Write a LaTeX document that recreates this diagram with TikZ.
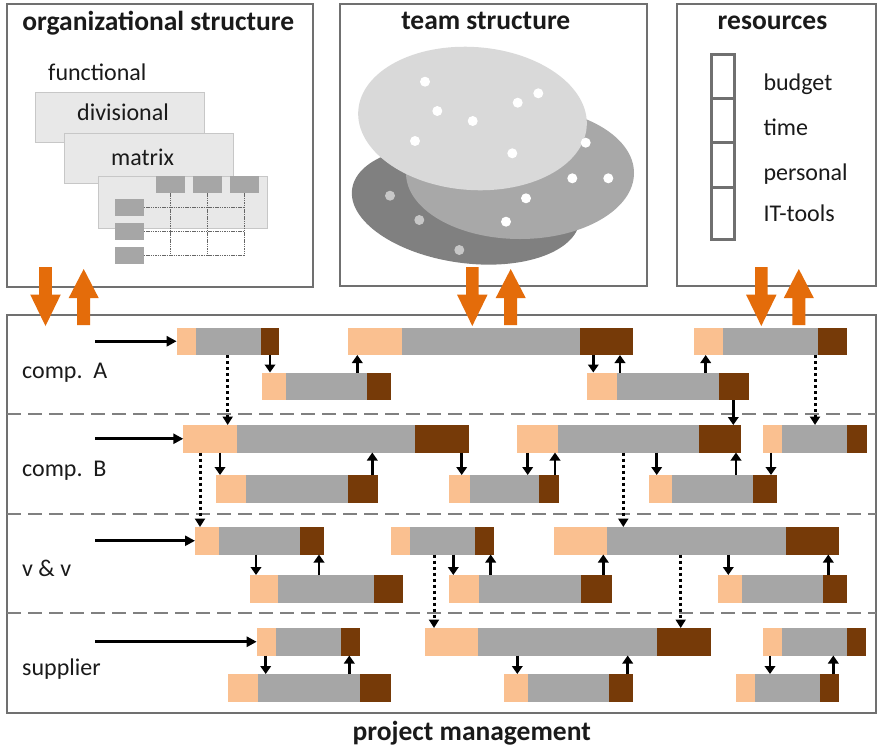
\documentclass[tikz,border=0pt]{standalone}
\usepackage{fontspec}
\setmainfont{Carlito}
\usetikzlibrary{arrows.meta,fit}
\definecolor{peach}{HTML}{FAC090}
\definecolor{bargray}{HTML}{A6A6A6}
\definecolor{barbrown}{HTML}{763A08}
\definecolor{orng}{HTML}{E46C0A}
\definecolor{frame}{HTML}{707070}
\definecolor{txt}{HTML}{1A1A1A}
\newcommand\pmbar[6]{%
  \fill[peach] (#2,#6) rectangle (#3,#6+27.5);
  \fill[bargray] (#3,#6) rectangle (#4,#6+27.5);
  \fill[barbrown] (#4,#6) rectangle (#5,#6+27.5);
  \node[fit={(#2,#6) (#5,#6+27.5)}, inner sep=0pt, outer sep=0pt] (#1) {};
}
\newcommand\pmdn[3]{\draw[sarrow] (#1,0 |- #2.south) -- (#1,0 |- #3.north);}
\newcommand\pmup[3]{\draw[sarrow] (#1,0 |- #2.north) -- (#1,0 |- #3.south);}
\newcommand\pmdot[3]{\draw[darrow] (#1,0 |- #2.south) -- (#1,0 |- #3.north);}
\newcommand\odown[1]{\fill[orng] (#1-6.3,267) -- (#1+6.3,267) -- (#1+6.3,294.5) -- (#1+15.3,294.5) -- (#1,326) -- (#1-15.3,294.5) -- (#1-6.3,294.5) -- cycle;}
\newcommand\oup[1]{\fill[orng] (#1-6.5,325) -- (#1+6.5,325) -- (#1+6.5,298) -- (#1+15,298) -- (#1,269) -- (#1-15,298) -- (#1-6.5,298) -- cycle;}
\begin{document}
\begin{tikzpicture}[x=1pt,y=-1pt,
  box/.style={draw=frame, line width=2.3pt, inner sep=0pt, outer sep=0pt, anchor=north west},
  title/.style={font=\fontsize{27.5}{33}\selectfont\bfseries, anchor=base, inner sep=0pt, text=txt},
  lbl/.style={font=\fontsize{24}{29}\selectfont, anchor=base west, inner sep=0pt, text=txt},
  orgr/.style={draw=black!22, fill=black!9, line width=0.8pt, anchor=north west, inner sep=0pt},
  mini/.style={fill=black!35, anchor=north west, inner sep=0pt, minimum width=29pt, minimum height=16.6pt},
  gridl/.style={draw=black!60, line width=0.9pt, dash pattern=on 1.5pt off 0.8pt},
  dashl/.style={draw=black!50, line width=2.2pt, dash pattern=on 14pt off 7pt},
  sarrow/.style={line width=2.6pt, -{Triangle[width=10.5pt,length=8pt]}},
  darrow/.style={line width=3pt, dash pattern=on 3pt off 3pt, -{Triangle[width=10pt,length=8.5pt]}},
  entry/.style={line width=2.6pt, -{Triangle[width=10pt,length=10pt]}}]
\useasboundingbox (0,0) rectangle (878,748);
\fill[white] (0,0) rectangle (878,748);
% frames
\node[box, minimum width=306pt, minimum height=283pt] (org) at (7,4) {};
\node[box, minimum width=307pt, minimum height=282pt] (team) at (340,4) {};
\node[box, minimum width=199pt, minimum height=282pt] (res) at (677,4) {};
\node[box, minimum width=869pt, minimum height=398pt] (pm) at (7,315) {};
% titles
\node[title] (torg) at (158.3,30) {organizational structure};
\node[title] (tteam) at (485.8,29.3) {team structure};
\node[title] (tres) at (772.5,29.3) {resources};
\node[title] (tpm) at (471.7,740) {project management};
% organizational structure
\node[lbl] (tfun) at (48,80) {functional};
\node[orgr, minimum width=169pt, minimum height=50pt] (r1) at (35,91.7) {};
\node[lbl] (tdiv) at (77,120) {divisional};
\node[orgr, minimum width=169.3pt, minimum height=50pt] (r2) at (64,132.7) {};
\node[lbl] (tmat) at (111,165.7) {matrix};
\node[orgr, minimum width=169pt, minimum height=52.3pt] (r3) at (97.7,176) {};
\node[mini] (c1) at (155.7,176) {};
\node[mini] (c2) at (192.7,176) {};
\node[mini] (c3) at (229.3,176) {};
\node[mini] (w1) at (114.3,199) {};
\node[mini] (w2) at (114.3,222.7) {};
\node[mini] (w3) at (114.3,246.7) {};
\foreach \c in {c1,c2,c3} \draw[gridl] (\c.south) -- (\c.south |- w3.east);
\foreach \w in {w1,w2,w3} \draw[gridl] (\w.east) -- (\w.east -| c3.south);
% team structure
\fill[black!50, rotate around={-8:(466,205)}] (466,205) ellipse [x radius=115, y radius=58];
\fill[black!34] (520,173) ellipse [x radius=114, y radius=66];
\fill[black!15, rotate around={-4:(472.5,118.5)}] (472.5,118.5) ellipse [x radius=114.5, y radius=71.5];
\foreach \p in {(425,81.7),(437.3,111),(472.7,121),(517.7,102.7),(538.3,93.3),(415,141),(512.3,153.3),(585.7,142.7),(572.3,178.3),(608.3,178.3),(526,198.3),(506,221.7)}
  \fill[white] \p circle [radius=5];
\foreach \p in {(390,195.7),(419.3,220),(459.3,250)}
  \fill[black!22] \p circle [radius=5];
% resources
\draw[frame, line width=3pt] (711.7,54) rectangle (734,239.3);
\foreach \yy in {98.3,142.7,187.7} \draw[frame, line width=3pt] (711.7,\yy) -- (734,\yy);
\node[lbl] (tbud) at (763.3,90.7) {budget};
\node[lbl] (ttim) at (763.3,135) {time};
\node[lbl] (tper) at (763.3,180) {personal};
\node[lbl] (tit) at (763.3,221.7) {IT-tools};
% row separators
\foreach \yy in {414,514,613} \draw[dashl] (pm.west |- 0,\yy) -- (pm.east |- 0,\yy);
% row labels
\node[lbl] (la) at (22,378.3) {comp.\ \ A};
\node[lbl] (lb) at (22,476.7) {comp.\ \ B};
\node[lbl] (lc) at (22,576) {v \& v};
\node[lbl] (ld) at (22,675) {supplier};
% bars
\pmbar{A1}{176.7}{196}{260.7}{279.3}{327.5}
\pmbar{A2}{261.7}{285.7}{366.7}{390.7}{372.5}
\pmbar{A3}{348.3}{401.7}{580}{633.3}{327.5}
\pmbar{A4}{587.3}{617.3}{719}{749}{372.5}
\pmbar{A5}{694.3}{722.7}{818.3}{847.3}{327.5}
\pmbar{B1}{183.3}{236.7}{415}{469}{425}
\pmbar{B2}{216}{246}{347.7}{378.3}{475}
\pmbar{B3}{517.3}{558.3}{699}{740.7}{425}
\pmbar{B4}{449.3}{470}{539}{559}{475}
\pmbar{B5}{649}{672.3}{753.3}{777.3}{475}
\pmbar{B6}{763.3}{782.3}{847.3}{866.7}{425}
\pmbar{C1}{195}{219.3}{300}{324}{527}
\pmbar{C2}{250}{278.3}{374}{402.7}{575}
\pmbar{C3}{390.7}{410}{475}{494}{527}
\pmbar{C4}{554}{606.7}{785.7}{839.3}{527}
\pmbar{C5}{449.3}{479.3}{581}{611.7}{575}
\pmbar{C6}{718.3}{742.3}{822.7}{847.3}{575}
\pmbar{D1}{256.7}{276}{340.7}{360}{628}
\pmbar{D2}{228.3}{258.3}{360}{390.7}{674}
\pmbar{D3}{425}{478.3}{657.3}{710.7}{628}
\pmbar{D4}{504.3}{528.3}{609.3}{633.3}{674}
\pmbar{D5}{763.3}{782.3}{846.7}{866}{628}
\pmbar{D6}{736}{755}{820}{839}{674}
% entry arrows
\coordinate (sA) at (95,341.25);
\coordinate (sB) at (95,438.75);
\coordinate (sC) at (95,540.75);
\coordinate (sD) at (95,641.75);
\draw[entry] (sA) -- (A1.west);
\draw[entry] (sB) -- (B1.west);
\draw[entry] (sC) -- (C1.west);
\draw[entry] (sD) -- (D1.west);
% solid links
\pmdn{270}{A1}{A2}
\pmup{357.3}{A2}{A3}
\pmdn{593.3}{A3}{A4}
\pmup{620}{A4}{A3}
\pmup{705.7}{A4}{A5}
\pmdn{733.3}{A4}{B3}
\pmdn{220}{B1}{B2}
\pmup{372.3}{B2}{B1}
\pmdn{461.7}{B1}{B4}
\pmdn{527.7}{B3}{B4}
\pmup{555}{B4}{B3}
\pmdn{656.7}{B3}{B5}
\pmup{736}{B5}{B3}
\pmdn{771}{B6}{B5}
\pmdn{256}{C1}{C2}
\pmup{319}{C2}{C1}
\pmdn{453.3}{C3}{C5}
\pmup{490.7}{C5}{C3}
\pmup{603.3}{C5}{C4}
\pmdn{728.3}{C4}{C6}
\pmup{828.3}{C6}{C4}
\pmdn{265.7}{D1}{D2}
\pmup{349.3}{D2}{D1}
\pmdn{517.3}{D3}{D4}
\pmup{627.7}{D4}{D3}
\pmdn{770}{D5}{D6}
\pmup{833.3}{D6}{D5}
% dotted links
\pmdot{227.7}{A1}{B1}
\pmdot{815}{A5}{B6}
\pmdot{200}{B1}{C1}
\pmdot{623.3}{B3}{C4}
\pmdot{434}{C3}{D3}
\pmdot{680.7}{C4}{D3}
% orange exchange arrows
\odown{45.5}
\oup{83.7}
\odown{472.3}
\oup{510.7}
\odown{761.3}
\oup{798.8}
\end{tikzpicture}
\end{document}
